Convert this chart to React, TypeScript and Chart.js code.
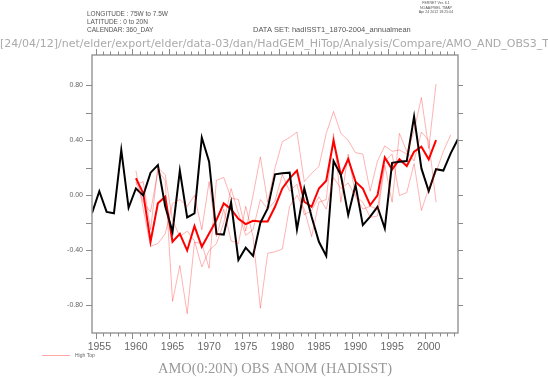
import React, { useEffect, useRef } from "react";
import { Chart, registerables } from "chart.js";

Chart.register(...registerables);

// Observed (HadISST) AMO anomaly, annual, 1954..2004
const obsYears: number[] = [];
for (let y = 1954; y <= 2004; y++) obsYears.push(y);
const obsValues = [
  -0.13, 0.03, -0.12, -0.13, 0.33, -0.09, 0.05, 0.0, 0.165, 0.22,
  -0.08, -0.265, 0.18, -0.16, -0.13, 0.42, 0.245, -0.28, -0.285, -0.05,
  -0.47, -0.38, -0.44, -0.2, -0.095, 0.153, 0.16, 0.165, -0.247, 0.05,
  -0.155, -0.337, -0.44, 0.25, 0.147, -0.143, 0.075, -0.216, -0.155, -0.083,
  -0.24, 0.237, 0.245, 0.25, 0.572, 0.196, 0.031, 0.19, 0.18, 0.305,
  0.41,
];

// Model ensemble (High Top), 1960..2003
const modelYears: number[] = [];
for (let y = 1960; y <= 2003; y++) modelYears.push(y);
const meanValues: (number | null)[] = [
  0.124, 0.015, -0.337, -0.058, -0.01, -0.337, -0.28, -0.4, -0.223, -0.373,
  -0.277, -0.18, -0.058, -0.1, -0.17, -0.209, -0.185, -0.19, -0.19, -0.083,
  0.05, 0.124, 0.18, -0.046, -0.083, 0.05, 0.106, 0.397, 0.147, 0.264,
  0.1, 0.05, -0.07, 0.0, 0.276, 0.189, 0.262, 0.213, 0.317, 0.354,
  0.262, 0.402, null, null,
];
const memberA: (number | null)[] = [
  0.1, -0.05, -0.12, 0.18, 0.11, -0.77, -0.51, -0.86, -0.34, -0.35,
  -0.53, 0.11, 0.13, -0.02, -0.03, -0.26, 0.0, 0.28, -0.05, 0.2,
  0.39, 0.42, 0.46, 0.1, 0.16, 0.21, 0.45, 0.61, 0.45, 0.4,
  0.31, 0.3, 0.03, 0.25, 0.36, 0.32, 0.33, 0.3, 0.47, 0.71,
  0.34, 0.81, null, null,
];
const memberB: (number | null)[] = [
  0.18, -0.1, -0.37, -0.35, -0.28, -0.06, -0.03, -0.08, 0.0, -0.25,
  0.1, -0.3, -0.1, -0.33, -0.35, -0.08, -0.3, -0.82, -0.42, -0.41,
  -0.39, -0.08, 0.0, -0.1, -0.3, -0.05, -0.03, 0.45, -0.05, 0.3,
  0.0, -0.05, -0.16, -0.15, 0.22, -0.05, 0.45, 0.32, 0.25, 0.46,
  0.4, -0.05, null, null,
];
const memberC: (number | null)[] = [
  0.08, 0.1, -0.25, 0.2, 0.15, -0.18, -0.3, -0.26, -0.33, -0.52,
  -0.4, -0.35, -0.2, 0.05, -0.13, -0.29, -0.25, -0.03, -0.1, -0.04,
  0.15, 0.03, 0.08, -0.14, -0.11, -0.01, -0.1, 0.13, 0.05, 0.09,
  -0.01, -0.1, -0.08, -0.1, 0.25, 0.3, 0.0, 0.02, 0.23, -0.11,
  0.05, 0.17, 0.32, 0.44,
];

const yTickValues = [-0.8, -0.6, -0.4, -0.2, 0, 0.2, 0.4, 0.6, 0.8];
const yLabelValues = [-0.8, -0.4, 0, 0.4, 0.8];
const xLabelYears = [1955, 1960, 1965, 1970, 1975, 1980, 1985, 1990, 1995, 2000];

const pts = (years: number[], vals: (number | null)[]) =>
  years.map((yr, i) => ({ x: yr + 0.5, y: vals[i] as number | null }));

const ferretPlugin = {
  id: "ferretDecor",
  afterDraw(chart: any) {
    const { ctx, chartArea: a, scales } = chart;
    const xs = scales.x;
    const ys = scales.y;
    ctx.save();
    // box
    ctx.strokeStyle = "#9a9a9a";
    ctx.lineWidth = 1.5;
    ctx.strokeRect(a.left, a.top, a.right - a.left, a.bottom - a.top);
    ctx.lineWidth = 1;
    ctx.strokeStyle = "#8a8a8a";
    // x ticks (year boundaries)
    for (let yr = 1955; yr <= 2004; yr++) {
      const px = Math.round(xs.getPixelForValue(yr)) + 0.5;
      const len = yr % 5 === 0 ? 6 : 3.5;
      ctx.beginPath();
      ctx.moveTo(px, a.bottom);
      ctx.lineTo(px, a.bottom + len);
      ctx.moveTo(px, a.top);
      ctx.lineTo(px, a.top - len);
      ctx.stroke();
    }
    // y ticks
    for (const v of yTickValues) {
      const py = Math.round(ys.getPixelForValue(v)) + 0.5;
      ctx.beginPath();
      ctx.moveTo(a.left - 6, py);
      ctx.lineTo(a.left, py);
      ctx.moveTo(a.right, py);
      ctx.lineTo(a.right + 5, py);
      ctx.stroke();
    }
    // y labels
    ctx.fillStyle = "#666";
    ctx.font = "7px 'Liberation Sans', sans-serif";
    ctx.textAlign = "right";
    ctx.textBaseline = "middle";
    for (const v of yLabelValues) {
      const py = ys.getPixelForValue(v);
      ctx.fillText((v < 0 ? "-" : "") + Math.abs(v).toFixed(2), a.left - 9, py);
    }
    // x labels
    ctx.font = "10.5px 'Liberation Sans', sans-serif";
    ctx.textAlign = "center";
    ctx.textBaseline = "middle";
    for (const yr of xLabelYears) {
      ctx.fillText(String(yr), xs.getPixelForValue(yr + 0.5), a.bottom + 14);
    }
    // header
    ctx.fillStyle = "#555";
    ctx.textAlign = "left";
    ctx.textBaseline = "middle";
    ctx.font = "6.5px 'Liberation Sans', sans-serif";
    ctx.fillText("LONGITUDE : 75W to 7.5W", 87, 14);
    ctx.fillText("LATITUDE : 0 to 20N", 87, 22);
    ctx.fillText("CALENDAR: 360_DAY", 87, 30);
    ctx.font = "7.5px 'Liberation Sans', sans-serif";
    ctx.fillText("DATA SET: hadISST1_1870-2004_annualmean", 253, 30);
    ctx.font = "3.6px 'Liberation Sans', sans-serif";
    ctx.textAlign = "center";
    ctx.fillText("FERRET Ver. 6.1", 436, 3);
    ctx.fillText("NOAA/PMEL TMAP", 436, 7.5);
    ctx.fillText("Apr 24 2012 18:25:04", 436, 12);
    ctx.textAlign = "left";
    ctx.fillStyle = "#aaa";
    ctx.font = "11px 'DejaVu Sans', sans-serif";
    ctx.fillText(
      "[24/04/12]/net/elder/export/elder/data-03/dan/HadGEM_HiTop/Analysis/Compare/AMO_AND_OBS3_T",
      0,
      44
    );
    // legend
    ctx.strokeStyle = "rgba(255,0,0,0.35)";
    ctx.lineWidth = 1;
    ctx.beginPath();
    ctx.moveTo(42, 355.5);
    ctx.lineTo(70, 355.5);
    ctx.stroke();
    ctx.fillStyle = "#666";
    ctx.font = "5px 'Liberation Sans', sans-serif";
    ctx.fillText("High Top", 75, 356);
    // title
    ctx.fillStyle = "#999";
    ctx.font = "14.5px 'Liberation Serif', serif";
    ctx.textAlign = "center";
    ctx.fillText("AMO(0:20N) OBS ANOM (HADISST)", 275, 369);
    ctx.restore();
  },
};

export default function App() {
  const ref = useRef<HTMLCanvasElement | null>(null);
  useEffect(() => {
    if (!ref.current) return;
    const pink = "rgba(255,0,0,0.3)";
    const chart = new Chart(ref.current, {
      type: "line",
      data: {
        datasets: [
          { label: "m1", data: pts(modelYears, memberA), borderColor: pink, borderWidth: 1, pointRadius: 0, spanGaps: false },
          { label: "m2", data: pts(modelYears, memberB), borderColor: pink, borderWidth: 1, pointRadius: 0, spanGaps: false },
          { label: "m3", data: pts(modelYears, memberC), borderColor: pink, borderWidth: 1, pointRadius: 0, spanGaps: false },
          { label: "OBS", data: pts(obsYears, obsValues), borderColor: "#000", borderWidth: 2, pointRadius: 0 },
          { label: "High Top mean", data: pts(modelYears, meanValues), borderColor: "#ff0000", borderWidth: 2, pointRadius: 0, spanGaps: false },
        ],
      },
      options: {
        animation: false,
        responsive: false,
        maintainAspectRatio: false,
        layout: { padding: { left: 92, right: 90, top: 55, bottom: 44 } },
        plugins: { legend: { display: false }, tooltip: { enabled: false } },
        elements: { line: { tension: 0 } },
        scales: {
          x: { type: "linear", min: 1954.5, max: 2004.5, display: false },
          y: { type: "linear", min: -1.0, max: 1.02, display: false },
        },
      },
      plugins: [ferretPlugin],
    });
    return () => chart.destroy();
  }, []);
  return (
    <div style={{ position: "fixed", left: 0, top: 0, width: 548, height: 377, background: "#fff" }}>
      <canvas ref={ref} width={548} height={377} style={{ width: 548, height: 377, display: "block" }} />
    </div>
  );
}
